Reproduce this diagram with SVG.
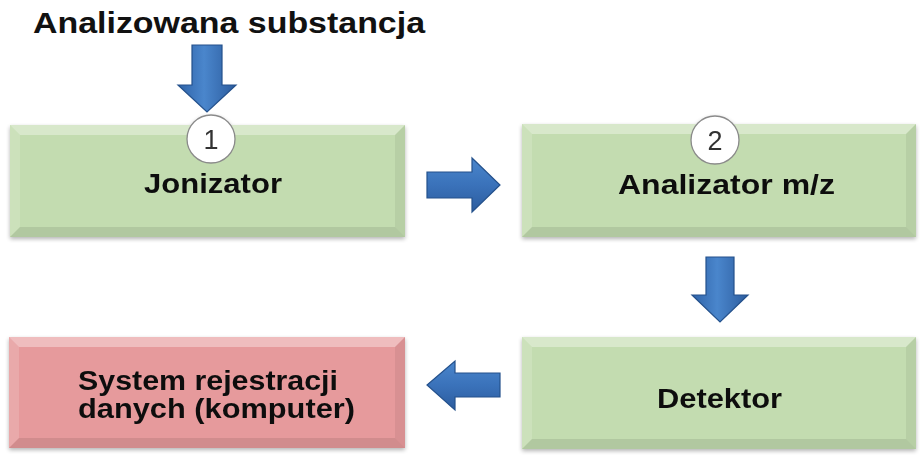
<svg xmlns="http://www.w3.org/2000/svg" width="921" height="459" viewBox="0 0 921 459">
  <defs>
    <linearGradient id="arrowV" x1="0" y1="0" x2="1" y2="0">
      <stop offset="0" stop-color="#2f63a8"/>
      <stop offset="0.45" stop-color="#4a86cc"/>
      <stop offset="1" stop-color="#2c5c9e"/>
    </linearGradient>
    <linearGradient id="arrowH" x1="0" y1="0" x2="0" y2="1">
      <stop offset="0" stop-color="#4a86cc"/>
      <stop offset="0.5" stop-color="#3a72ba"/>
      <stop offset="1" stop-color="#2c5c9e"/>
    </linearGradient>
    <filter id="shadow" x="-5%" y="-5%" width="110%" height="120%">
      <feGaussianBlur in="SourceAlpha" stdDeviation="2"/>
      <feOffset dx="0" dy="2" result="b"/>
      <feComponentTransfer><feFuncA type="linear" slope="0.3"/></feComponentTransfer>
      <feMerge><feMergeNode/><feMergeNode in="SourceGraphic"/></feMerge>
    </filter>
  </defs>
  <style>
    .lbl { font-family: "Liberation Sans", Arial, sans-serif; font-weight: bold; font-size: 27px; fill: #111; }
    .title { font-family: "Liberation Sans", Arial, sans-serif; font-weight: bold; font-size: 29px; fill: #111; }
    .num { font-family: "Liberation Sans", Arial, sans-serif; font-size: 27px; fill: #333; text-anchor: middle; }
    .circ { fill: #fff; stroke: #8a8a8a; stroke-width: 1.3; }
    .green { fill: #c3dcb0; }
    .red { fill: #e69a9c; }
    .hl { fill: #fff; opacity: 0.35; }
    .hl2 { fill: #fff; opacity: 0.15; }
    .dk { fill: #000; opacity: 0.06; }
    .dk2 { fill: #000; opacity: 0.09; }
    .arr { stroke: #24518c; stroke-width: 1.2; stroke-linejoin: miter; }
  </style>

  <text class="title" x="33" y="33" textLength="392" lengthAdjust="spacingAndGlyphs">Analizowana substancja</text>

  <g id="node-jonizator" filter="url(#shadow)">
    <rect class="green" x="10" y="125" width="395" height="112"/>
    <polygon class="hl" points="10,125 405,125 395,135 20,135"/>
    <polygon class="hl2" points="10,125 20,135 20,227 10,237"/>
    <polygon class="dk" points="405,125 405,237 395,227 395,135"/>
    <polygon class="dk2" points="10,237 20,227 395,227 405,237"/>
    <circle class="circ" cx="211" cy="139" r="24"/>
    <text class="num" x="211" y="149">1</text>
    <text class="lbl" x="144" y="193" textLength="138" lengthAdjust="spacingAndGlyphs">Jonizator</text>
  </g>

  <g id="node-analizator" filter="url(#shadow)">
    <rect class="green" x="522" y="124" width="394" height="113"/>
    <polygon class="hl" points="522,124 916,124 906,134 532,134"/>
    <polygon class="hl2" points="522,124 532,134 532,227 522,237"/>
    <polygon class="dk" points="916,124 916,237 906,227 906,134"/>
    <polygon class="dk2" points="522,237 532,227 906,227 916,237"/>
    <circle class="circ" cx="715" cy="140" r="24"/>
    <text class="num" x="715" y="150">2</text>
    <text class="lbl" x="618" y="194" textLength="217" lengthAdjust="spacingAndGlyphs">Analizator m/z</text>
  </g>

  <g id="node-detektor" filter="url(#shadow)">
    <rect class="green" x="522" y="337" width="394" height="112"/>
    <polygon class="hl" points="522,337 916,337 906,347 532,347"/>
    <polygon class="hl2" points="522,337 532,347 532,439 522,449"/>
    <polygon class="dk" points="916,337 916,449 906,439 906,347"/>
    <polygon class="dk2" points="522,449 532,439 906,439 916,449"/>
    <text class="lbl" x="657" y="408" textLength="125" lengthAdjust="spacingAndGlyphs">Detektor</text>
  </g>

  <g id="node-system" filter="url(#shadow)">
    <rect class="red" x="9" y="337" width="396" height="111"/>
    <polygon class="hl" points="9,337 405,337 395,347 19,347"/>
    <polygon class="hl2" points="9,337 19,347 19,438 9,448"/>
    <polygon class="dk" points="405,337 405,448 395,438 395,347"/>
    <polygon class="dk2" points="9,448 19,438 395,438 405,448"/>
    <text class="lbl" x="78" y="390" textLength="260" lengthAdjust="spacingAndGlyphs">System rejestracji</text>
    <text class="lbl" x="78" y="418" textLength="277" lengthAdjust="spacingAndGlyphs">danych (komputer)</text>
  </g>

  <g id="connectors">
    <path class="arr" fill="url(#arrowV)" d="M192,45 L222,45 L222,85 L236,85 L207,112 L178,85 L192,85 Z"/>
    <path class="arr" fill="url(#arrowH)" d="M427,172 L472,172 L472,158 L500,185 L472,212 L472,198 L427,198 Z"/>
    <path class="arr" fill="url(#arrowV)" d="M706,257 L734,257 L734,295 L748,295 L720,322 L692,295 L706,295 Z"/>
    <path class="arr" fill="url(#arrowH)" d="M500,373 L455,373 L455,361 L427,385 L455,410 L455,397 L500,397 Z"/>
  </g>
</svg>
